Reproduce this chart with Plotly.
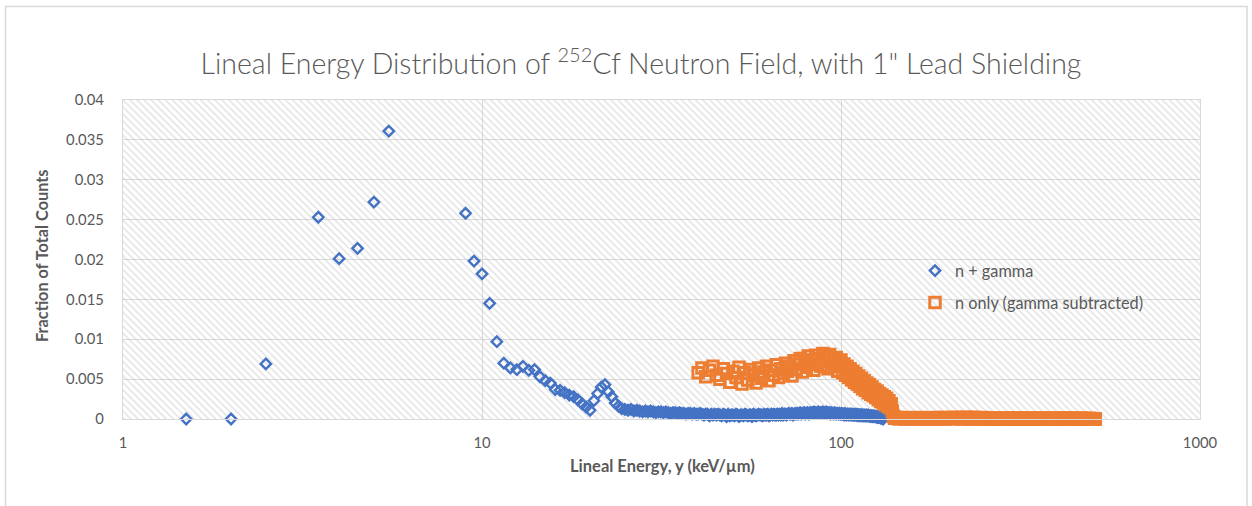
import numpy as np
import plotly.graph_objects as go

# ---------------- data ----------------
title_text = "Lineal Energy Distribution of <sup>252</sup>Cf Neutron Field, with 1\" Lead Shielding"
x_title = "Lineal Energy, y (keV/µm)"
y_title = "Fraction of Total Counts"
series_names = ["n + gamma", "n only (gamma subtracted)"]
x_tick_vals = [1, 10, 100, 1000]
x_tick_text = ["1", "10", "100", "1000"]

# n + gamma, individually visible points
blue_x_head = [1.5, 2, 2.5, 3.5, 4, 4.5, 5, 5.5, 9, 9.5, 10, 10.5,
               11, 11.5, 12, 12.5, 13, 13.5, 14, 14.5, 15, 15.5, 16, 16.5,
               17, 17.5, 18, 18.5, 19, 19.5, 20, 20.5, 21, 21.5, 22, 22.5,
               23, 23.5, 24, 24.5]
blue_y_head = [0, 0, 0.0069, 0.0253, 0.0201, 0.0214, 0.0272, 0.0361, 0.0258, 0.0198, 0.0182, 0.0145,
               0.0097, 0.0070, 0.0064, 0.0062, 0.0066, 0.0061, 0.0062, 0.0053, 0.0048, 0.0045, 0.0037, 0.0036,
               0.0033, 0.0030, 0.0028, 0.0024, 0.0019, 0.0015, 0.0011, 0.0023, 0.0032, 0.0040, 0.0043, 0.0034,
               0.0028, 0.0020, 0.0016, 0.0013]

# n + gamma, dense tail: bins 25 .. 131 (step 0.5)
blue_x_tail = np.arange(25, 131.25, 0.5)
blue_y_tail = [
    0.0012, 0.0011, 0.0012, 0.0010, 0.0011, 0.0010, 0.0009, 0.0010, 0.0009, 0.0010,
    0.0009, 0.0008, 0.0009, 0.0009, 0.0008, 0.0009, 0.0008, 0.0007, 0.0008, 0.0008,
    0.0007, 0.0008, 0.0007, 0.0007, 0.0006, 0.0007, 0.0007, 0.0006, 0.0007, 0.0006,
    0.0006, 0.0007, 0.0006, 0.0005, 0.0006, 0.0006, 0.0004, 0.0006, 0.0005, 0.0006,
    0.0005, 0.0006, 0.0005, 0.0004, 0.0006, 0.0005, 0.0003, 0.0006, 0.0004, 0.0005,
    0.0005, 0.0004, 0.0006, 0.0005, 0.0003, 0.0005, 0.0005, 0.0004, 0.0006, 0.0005,
    0.0004, 0.0005, 0.0005, 0.0003, 0.0006, 0.0005, 0.0004, 0.0005, 0.0006, 0.0005,
    0.0005, 0.0004, 0.0006, 0.0005, 0.0005, 0.0006, 0.0004, 0.0005, 0.0006, 0.0005,
    0.0006, 0.0005, 0.0005, 0.0006, 0.0005, 0.0006, 0.0005, 0.0007, 0.0005, 0.0006,
    0.0006, 0.0005, 0.0006, 0.0007, 0.0006, 0.0006, 0.0007, 0.0005, 0.0006, 0.0007,
    0.0006, 0.0007, 0.0006, 0.0007, 0.0008, 0.0006, 0.0007, 0.0007, 0.0008, 0.0006,
    0.0007, 0.0008, 0.0007, 0.0006, 0.0008, 0.0007, 0.0008, 0.0007, 0.0009, 0.0007,
    0.0008, 0.0007, 0.0008, 0.0009, 0.0007, 0.0008, 0.0008, 0.0007, 0.0009, 0.0008,
    0.0007, 0.0008, 0.0009, 0.0007, 0.0008, 0.0007, 0.0008, 0.0006, 0.0008, 0.0007,
    0.0007, 0.0006, 0.0008, 0.0007, 0.0006, 0.0007, 0.0007, 0.0006, 0.0007, 0.0006,
    0.0006, 0.0007, 0.0006, 0.0006, 0.0005, 0.0007, 0.0006, 0.0005, 0.0006, 0.0006,
    0.0005, 0.0006, 0.0006, 0.0005, 0.0006, 0.0005, 0.0006, 0.0005, 0.0005, 0.0006,
    0.0005, 0.0005, 0.0006, 0.0004, 0.0005, 0.0005, 0.0004, 0.0005, 0.0005, 0.0004,
    0.0005, 0.0004, 0.0005, 0.0004, 0.0004, 0.0005, 0.0004, 0.0004, 0.0005, 0.0004,
    0.0004, 0.0004, 0.0003, 0.0004, 0.0004, 0.0003, 0.0004, 0.0003, 0.0004, 0.0003,
    0.0003, 0.0003, 0.0002, 0.0003, 0.0002, 0.0002, 0.0003, 0.0002, 0.0001, 0.0002,
    0.0001, 0.0001, 0.0000,
]

# n only (gamma subtracted): bins 40 .. 140 (step 1)
orange_x_head = np.arange(40, 141, 1)
orange_y_head = [
    0.0058, 0.0064, 0.0053, 0.0061, 0.0066, 0.0055, 0.0050, 0.0063, 0.0057, 0.0046,
    0.0060, 0.0052, 0.0065, 0.0044, 0.0058, 0.0049, 0.0062, 0.0055, 0.0045, 0.0064,
    0.0051, 0.0059, 0.0066, 0.0048, 0.0061, 0.0055, 0.0068, 0.0052, 0.0063, 0.0057,
    0.0070, 0.0060, 0.0066, 0.0054, 0.0073, 0.0062, 0.0069, 0.0076, 0.0059, 0.0072,
    0.0065, 0.0079, 0.0068, 0.0074, 0.0061, 0.0080, 0.0070, 0.0076, 0.0066, 0.0082,
    0.0072, 0.0078, 0.0063, 0.0081, 0.0069, 0.0075, 0.0066, 0.0077, 0.0060, 0.0072,
    0.0074, 0.0058, 0.0069, 0.0055, 0.0066, 0.0052, 0.0063, 0.0049, 0.0060, 0.0046,
    0.0057, 0.0044, 0.0054, 0.0041, 0.0051, 0.0038, 0.0048, 0.0036, 0.0045, 0.0033,
    0.0043, 0.0031, 0.0040, 0.0029, 0.0037, 0.0027, 0.0035, 0.0024, 0.0032, 0.0022,
    0.0030, 0.0020, 0.0028, 0.0018, 0.0026, 0.0016, 0.0023, 0.0014, 0.0019, 0.0010,
    0.0003,
]

# n only, flat tail: bins 141 .. 511 (step 2)
orange_x_tail = np.arange(141, 512, 2)
orange_y_tail = [
    0.0001, 0.0002, 0, 0.0001, 0.0001, 0, 0.0002, 0.0001, 0, 0.0001,
    0.0001, 0.0001, 0, 0.0002, 0.0001, 0, 0.0001, 0.0001, 0, 0.0001,
    0.0001, 0, 0.0002, 0.0001, 0, 0.0001, 0.0002, 0, 0.0001, 0.0001,
    0.0001, 0.0002, 0.0001, 0, 0.0002, 0.0002, 0.0001, 0.0001, 0, 0.0002,
    0.0001, 0.0002, 0.0002, 0, 0.0001, 0.0002, 0, 0.0002, 0.0001, 0.0001,
    0.0001, 0.0001, 0, 0.0002, 0, 0.0001, 0.0001, 0, 0.0001, 0,
    0.0001, 0.0001, 0, 0, 0.0001, 0, 0.0001, 0, 0.0001, 0,
    0, 0.0001, 0.0001, 0, 0, 0.0001, 0.0001, 0, 0, 0.0001,
    0.0001, 0, 0, 0.0001, 0, 0.0001, 0, 0, 0.0001, 0,
    0, 0.0001, 0, 0, 0.0001, 0, 0, 0.0001, 0, 0,
    0.0001, 0, 0, 0.0001, 0, 0, 0.0001, 0, 0, 0.0001,
    0, 0, 0.0001, 0, 0, 0, 0.0001, 0, 0, 0,
    0.0001, 0, 0.0001, 0, 0, 0, 0, 0.0001, 0, 0,
    0.0001, 0, 0, 0, 0.0001, 0, 0, 0.0001, 0, 0,
    0, 0, 0.0001, 0, 0.0001, 0, 0, 0, 0, 0.0001,
    0, 0.0001, 0, 0, 0, 0, 0.0001, 0, 0, 0,
    0, 0, 0, 0.0001, 0, 0, 0, 0, 0.0001, 0,
    0, 0, 0, 0, 0, 0, 0.0001, 0, 0, 0,
    0, 0, 0, 0, 0, 0,
]

blue_x = list(blue_x_head) + list(blue_x_tail)
blue_y = blue_y_head + blue_y_tail
orange_x = list(orange_x_head) + list(orange_x_tail)
orange_y = orange_y_head + orange_y_tail

# ---------------- layout geometry ----------------
W, H = 1252, 506
ML, MR, MT, MB = 123, 52, 100, 87
PW, PH = W - ML - MR, H - MT - MB

def px_x(px):
    return (px - ML) / PW

def px_y(py):
    return (H - MB - py) / PH

GRID = "#d9d9d9"
TXT = "#595959"
FONT = "Lato"

fig = go.Figure()

# hatched plot-area background
fig.add_trace(go.Scatter(
    x=[1, 1000, 1000, 1, 1], y=[0, 0, 0.04, 0.04, 0],
    mode="none", fill="toself", fillcolor="rgba(0,0,0,0)",
    fillpattern=dict(shape="\\", fgcolor="#c8c8c8", bgcolor="rgba(0,0,0,0)",
                     size=5, solidity=0.3),
    hoverinfo="skip", showlegend=False))

fig.add_trace(go.Scatter(
    x=blue_x, y=blue_y, mode="markers", name=series_names[0],
    marker=dict(symbol="diamond-open", size=8, color="#4472C4",
                line=dict(width=2.4, color="#4472C4")),
    cliponaxis=False, legend="legend"))

fig.add_trace(go.Scatter(
    x=orange_x, y=orange_y, mode="markers", name=series_names[1],
    marker=dict(symbol="square-open", size=10.5, color="#ED7D31",
                line=dict(width=3, color="#ED7D31")),
    cliponaxis=False, legend="legend2"))

axis_common = dict(showgrid=True, gridcolor=GRID, gridwidth=1.3,
                   showline=True, linecolor=GRID, linewidth=1.3, mirror=True,
                   zeroline=False, ticks="",
                   tickfont=dict(family=FONT, size=14.8, color=TXT))

fig.update_xaxes(type="log", range=[0, 3], tickvals=x_tick_vals, ticktext=x_tick_text,
                 ticklabelstandoff=10, **axis_common)
fig.update_yaxes(range=[0, 0.04], tick0=0, dtick=0.005, ticklabelstandoff=15,
                 **axis_common)

legend_common = dict(bgcolor="rgba(0,0,0,0)", borderwidth=0, xanchor="left",
                     yanchor="middle", itemwidth=30,
                     font=dict(family=FONT, size=16.3, color=TXT))

fig.update_layout(
    width=W, height=H,
    margin=dict(l=ML, r=MR, t=MT, b=MB, autoexpand=False),
    paper_bgcolor="white", plot_bgcolor="white",
    font=dict(family=FONT, color=TXT),
    title=dict(text=title_text, xref="paper", x=px_x(641), xanchor="center",
               yref="container", y=1 - 64 / H, yanchor="middle",
               font=dict(family=FONT, size=28.5, color=TXT, weight=300)),
    legend=dict(x=px_x(915), y=px_y(271), **legend_common),
    legend2=dict(x=px_x(915), y=px_y(303), **legend_common),
    annotations=[
        dict(text=f"<b>{x_title}</b>", xref="paper", yref="paper",
             x=px_x(662), y=px_y(466), xanchor="center", yanchor="middle",
             showarrow=False, font=dict(family=FONT, size=16.5, color=TXT)),
        dict(text=f"<b>{y_title}</b>", xref="paper", yref="paper",
             x=px_x(41), y=px_y(256), xanchor="center", yanchor="middle",
             textangle=-90, showarrow=False,
             font=dict(family=FONT, size=16.3, color=TXT)),
    ],
    shapes=[dict(type="rect", xref="paper", yref="paper",
                 x0=px_x(5.5), x1=px_x(1247), y0=px_y(512), y1=px_y(6.5),
                 line=dict(color=GRID, width=1.5), fillcolor="rgba(0,0,0,0)",
                 layer="below")],
)

fig.write_html("out.html")
